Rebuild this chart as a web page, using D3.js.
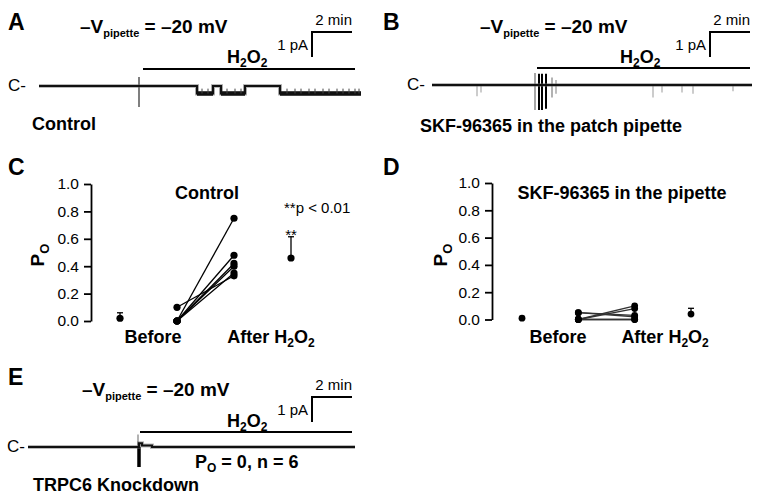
<!DOCTYPE html>
<html><head><meta charset="utf-8">
<script src="https://cdn.jsdelivr.net/npm/d3@7"></script>
<style>
html,body{margin:0;padding:0;background:#fff;}
svg{display:block;}
text{font-family:"Liberation Sans",Arial,Helvetica,sans-serif;fill:#000;}
</style></head>
<body>
<svg id="fig" width="762" height="498"></svg>
<script>
// ---------- DATA ----------
// Single-channel traces: segments [startMin, endMin, current pA]
const traceA_levels = [[0,7.9,0],[7.9,8.7,-0.3],[8.7,9.1,0],[9.1,10.3,-0.3],[10.3,12.05,0],[12.05,16.1,-0.3]];
const traceA_flickers = [8.15,8.45,9.4,9.8,10.1,12.4,12.8,13.1,13.5,13.8,14.2,14.5,14.9,15.2,15.5,15.8,16.0];
const traceA_artifacts = [[5.0,0.36,-0.84,"#555"]];
const traceB_levels = [[0,16,0]];
const traceB_spikes = [[2.25,-0.45],[2.45,-0.3],[11.05,-0.5],[11.5,-0.3],[12.5,-0.3],[13.05,-0.35],[15.05,-0.25]];
const traceB_artifacts = [[5.15,0.48,-1.0,"#888"],[5.35,0.45,-1.0,"#000"],[5.5,0.45,-1.0,"#000"],[5.7,0.45,-0.95,"#000"],[6.0,0.3,-0.5,"#999"],[6.2,0.2,-0.35,"#aaa"]];
const traceE_levels = [[0,5.55,0],[5.55,5.7,0.15],[5.7,6.2,0.06],[6.2,16.35,0]];
const traceE_artifacts = [[5.5,0.5,0,"#999"],[5.55,0,-0.8,"#000"]];
const h2o2Start = [5.2, 5.25, 5.6];   // min, panels A, B, E

// Open probability (Po) data
const yTicks = [0.0,0.2,0.4,0.6,0.8,1.0];
const xCategories = ["Before", "After H2O2"];
const C_before = [0,0,0,0,0,0.10];
const C_after  = [0.75,0.48,0.42,0.40,0.35,0.33];
const C_mean   = [0.02,0.46];
const C_err    = [0.04,0.155];
const D_before = [0,0,0.05,0.05,0,0];
const D_after  = [0.10,0.08,0.03,0.02,0,0];
const D_mean   = [0.01,0.04];
const D_err    = [0,0.042];

// ---------- DRAWING ----------
const svg = d3.select("#fig");
const FONT_B = 18;

function label(x,y,t,size,weight,anchor){
  return svg.append("text").attr("x",x).attr("y",y).attr("font-size",size)
    .attr("font-weight",weight||"normal").attr("text-anchor",anchor||"start").text(t);
}
function vLabel(x,y){
  const t = svg.append("text").attr("x",x).attr("y",y).attr("font-size",19).attr("font-weight","bold");
  t.append("tspan").text("\u2013V");
  t.append("tspan").attr("font-size",11).attr("dy",4).text("pipette");
  t.append("tspan").attr("dy",-4).text("\u00a0= \u201320 mV");
}
function h2o2(x,y,anchor){
  const t = svg.append("text").attr("x",x).attr("y",y).attr("font-size",FONT_B).attr("font-weight","bold").attr("text-anchor",anchor||"start");
  t.append("tspan").text("H");
  t.append("tspan").attr("font-size",12).attr("dy",4).text("2");
  t.append("tspan").attr("dy",-4).text("O");
  t.append("tspan").attr("font-size",12).attr("dy",4).text("2");
  return t;
}

function tracePanel(cfg){
  const x = d3.scaleLinear().domain([0,1]).range([cfg.x0, cfg.x0+20]); // 20 px per min
  const y = d3.scaleLinear().domain([0,1]).range([cfg.y0, cfg.y0-25]); // 25 px per pA
  label(cfg.lx, cfg.letterY, cfg.letter, 23, "bold");
  vLabel(cfg.vx, cfg.vy);
  // scale bar
  const sb = cfg.sbx, sy = cfg.sby;
  const tsb = x.invert(sb);
  svg.append("path").attr("fill","none").attr("stroke","#000").attr("stroke-width",2)
    .attr("d", `M${x(tsb)},${sy + (y(0)-y(1))} V${sy} H${x(tsb+2)}`);
  label(x(tsb+2), sy-7, "2 min", 15, "normal", "end");
  label(x(tsb)-4, sy+18, "1 pA", 15, "normal", "end");
  // H2O2 bar
  h2o2(cfg.hx, cfg.hy);
  svg.append("line").attr("x1", x(cfg.h2o2)).attr("x2", cfg.barEnd).attr("y1", cfg.barY).attr("y2", cfg.barY)
    .attr("stroke","#000").attr("stroke-width",2);
  label(cfg.cx, cfg.y0+5, "C-", 17, "normal");
  // artifacts
  (cfg.artifacts||[]).forEach(a=>{
    svg.append("line").attr("x1",x(a[0])).attr("x2",x(a[0])).attr("y1",y(a[1])).attr("y2",y(a[2]))
      .attr("stroke",a[3]).attr("stroke-width", a[3]==="#000"?(cfg.artW||2):1.5);
  });
  // spikes (brief openings)
  (cfg.spikes||[]).forEach(s=>{
    svg.append("line").attr("x1",x(s[0])).attr("x2",x(s[0])).attr("y1",y(0)).attr("y2",y(s[1]))
      .attr("stroke","#999").attr("stroke-width",1);
  });
  // level path
  const pts = [];
  cfg.levels.forEach(l=>{ pts.push([l[0],l[2]]); pts.push([l[1],l[2]]); });
  const line = d3.line().x(d=>x(d[0])).y(d=>y(d[1]));
  svg.append("path").attr("d",line(pts)).attr("fill","none").attr("stroke","#666").attr("stroke-width",4).attr("opacity",0.45);
  svg.append("path").attr("d",line(pts)).attr("fill","none").attr("stroke","#111").attr("stroke-width",2.2);
  // thicker, noisier open segments
  cfg.levels.filter(l=>l[2]<0).forEach(l=>{
    svg.append("line").attr("x1",x(l[0])).attr("x2",x(l[1])).attr("y1",y(l[2])).attr("y2",y(l[2]))
      .attr("stroke","#111").attr("stroke-width",4.5);
  });
  // flickers inside open segments (partial closures)
  (cfg.flickers||[]).forEach(f=>{
    const seg = cfg.levels.find(l=>f>=l[0]&&f<=l[1]);
    const lv = seg?seg[2]:0;
    svg.append("line").attr("x1",x(f)).attr("x2",x(f)).attr("y1",y(lv*0.35)).attr("y2",y(lv))
      .attr("stroke","#444").attr("stroke-width",1);
  });
}

tracePanel({letter:"A", lx:8, letterY:30, x0:39, y0:86, vx:80, vy:33, sbx:312, sby:32, hx:227, hy:63,
  h2o2:h2o2Start[0], barEnd:355, barY:69, cx:8, levels:traceA_levels, flickers:traceA_flickers, artifacts:traceA_artifacts});
label(32,130,"Control",FONT_B,"bold");

tracePanel({letter:"B", lx:383, letterY:30, x0:432, y0:85, vx:480, vy:33, sbx:710, sby:32, hx:620, hy:63,
  h2o2:h2o2Start[1], barEnd:750, barY:68, cx:407, levels:traceB_levels, spikes:traceB_spikes, artifacts:traceB_artifacts});
label(420,132,"SKF-96365 in the patch pipette",FONT_B,"bold");

tracePanel({letter:"E", lx:8, letterY:385, x0:28, y0:447, vx:82, vy:396, sbx:312, sby:397, hx:227, hy:427,
  h2o2:h2o2Start[2], barEnd:352, barY:432, cx:7, levels:traceE_levels, artifacts:traceE_artifacts, artW:3.5});
{
  const t = svg.append("text").attr("x",195).attr("y",468).attr("font-size",FONT_B).attr("font-weight","bold");
  t.append("tspan").text("P");
  t.append("tspan").attr("font-size",12).attr("dy",4).text("O");
  t.append("tspan").attr("dy",-4).text("\u00a0= 0, n = 6");
}
label(33,491,"TRPC6 Knockdown",FONT_B,"bold");

// Po panels
function poPanel(cfg){
  const x = d3.scaleLinear().domain([0,3]).range(cfg.xr);
  const y = d3.scaleLinear().domain([0,1]).range(cfg.yr);
  label(8 + cfg.off, 175, cfg.letter, 23, "bold");
  const ax = svg.append("g").attr("transform",`translate(${cfg.axisX},0)`)
    .call(d3.axisLeft(y).tickValues(yTicks).tickFormat(d3.format(".1f")).tickSize(7).tickSizeOuter(0).tickPadding(5));
  ax.select(".domain").attr("stroke","#000").attr("stroke-width",1.8);
  ax.selectAll(".tick line").attr("stroke","#000").attr("stroke-width",1.8);
  ax.selectAll(".tick text").attr("font-size",15.5).attr("fill","#000").attr("font-family","'Liberation Sans',Arial,sans-serif");
  // y label Po
  const pl = svg.append("text").attr("transform",`translate(${cfg.plx},${cfg.ply}) rotate(-90)`)
    .attr("font-size",19).attr("font-weight","bold").attr("text-anchor","middle");
  pl.append("tspan").text("P");
  pl.append("tspan").attr("font-size",13).attr("dy",5).text("O");
  // title
  label(cfg.titleX, 199, cfg.title, FONT_B, "bold", "middle");
  // paired lines
  cfg.before.forEach((b,i)=>{
    svg.append("line").attr("x1",x(1)).attr("x2",x(2)).attr("y1",y(b)).attr("y2",y(cfg.after[i]))
      .attr("stroke",cfg.lineColor).attr("stroke-width",1.3);
  });
  cfg.before.forEach(b=>svg.append("circle").attr("cx",x(1)).attr("cy",y(b)).attr("r",cfg.r));
  cfg.after.forEach(a=>svg.append("circle").attr("cx",x(2)).attr("cy",y(a)).attr("r",cfg.r));
  // means + error
  [0,3].forEach((pos,i)=>{
    if(cfg.err[i]>0){
      svg.append("line").attr("x1",x(pos)).attr("x2",x(pos)).attr("y1",y(cfg.mean[i])).attr("y2",y(cfg.mean[i]+cfg.err[i]))
        .attr("stroke","#000").attr("stroke-width",1.3);
      svg.append("line").attr("x1",x(pos)-3).attr("x2",x(pos)+3).attr("y1",y(cfg.mean[i]+cfg.err[i])).attr("y2",y(cfg.mean[i]+cfg.err[i]))
        .attr("stroke","#000").attr("stroke-width",1.3);
    }
    svg.append("circle").attr("cx",x(pos)).attr("cy",y(cfg.mean[i])).attr("r",cfg.r);
  });
  // category labels
  label(x(cfg.labPos[0]), 343, xCategories[0], FONT_B, "bold", "middle");
  const t = svg.append("text").attr("x",x(cfg.labPos[1])).attr("y",343).attr("font-size",FONT_B).attr("font-weight","bold").attr("text-anchor","middle");
  t.append("tspan").text("After H");
  t.append("tspan").attr("font-size",12).attr("dy",4).text("2");
  t.append("tspan").attr("dy",-4).text("O");
  t.append("tspan").attr("font-size",12).attr("dy",4).text("2");
  return {x,y};
}

const C = poPanel({letter:"C", off:0, xr:[120,291], yr:[321,184], axisX:91, plx:44, ply:255,
  title:"Control", titleX:207, before:C_before, after:C_after, mean:C_mean, err:C_err,
  lineColor:"#000", r:3.6, labPos:[0.58,2.65]});
label(284,213,"**p < 0.01",15,"normal");
label(C.x(3),240,"**",15,"normal","middle");

poPanel({letter:"D", off:375, xr:[522,691], yr:[319.5,183], axisX:492, plx:447, ply:255,
  title:"SKF-96365 in the pipette", titleX:622, before:D_before, after:D_after, mean:D_mean, err:D_err,
  lineColor:"#333", r:3.4, labPos:[0.64,2.54]});
</script>
</body></html>
